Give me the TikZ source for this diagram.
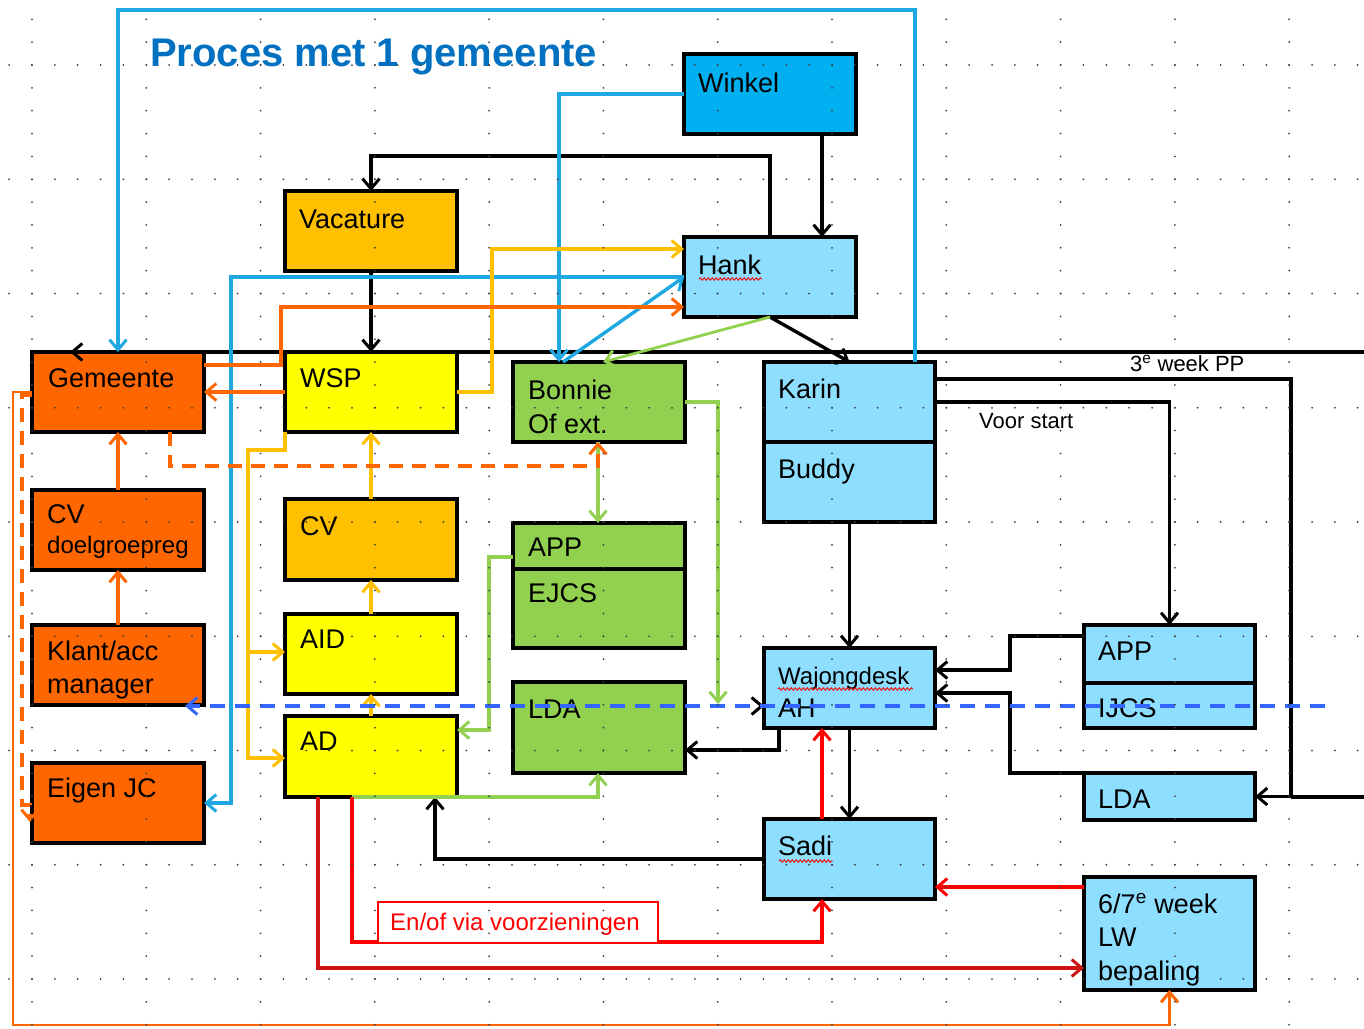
\documentclass[tikz,border=0pt]{standalone}
\usepackage{fontspec}
\setmainfont{Liberation Sans}
\usetikzlibrary{arrows.meta,calc,decorations.pathmorphing}
\definecolor{cOr}{RGB}{255,102,0}
\definecolor{cGold}{RGB}{255,192,0}
\definecolor{cYel}{RGB}{255,255,0}
\definecolor{cGrn}{RGB}{146,208,80}
\definecolor{cLb}{RGB}{142,222,255}
\definecolor{cWin}{RGB}{0,176,240}
\definecolor{cBl}{RGB}{30,167,225}
\definecolor{cDash}{RGB}{51,102,255}
\definecolor{cTitle}{RGB}{0,112,192}
\definecolor{cRed}{RGB}{255,0,0}
\definecolor{cDRed}{RGB}{205,20,20}
\begin{document}
\begin{tikzpicture}[x=1pt,y=-1pt,
  bx/.style={draw=black,line width=4pt,anchor=north west,inner sep=0pt,outer sep=0pt},
  tx/.style={anchor=base west,inner sep=0pt,font=\fontsize{27}{32}\selectfont},
  txs/.style={anchor=base west,inner sep=0pt,font=\fontsize{24}{28}\selectfont},
  txt/.style={anchor=base west,inner sep=0pt,font=\fontsize{22}{26}\selectfont},
  cn/.style={line width=3.4pt},
  ar/.style={-{Straight Barb[length=10pt,width=17pt,line width=3pt]}},
  spell/.style={cRed,line width=0.9pt,decorate,decoration={snake,amplitude=1.2pt,segment length=4pt}},
  ldash/.style={dash pattern=on 15pt off 10pt}]
\fill[white] (0,0) rectangle (1364,1028);
\useasboundingbox (0,0) rectangle (1364,1028);

% ---------- boxes ----------
\node[bx,fill=cWin,minimum width=172pt,minimum height=80pt] (win) at (684,54) {};
\node[bx,fill=cGold,minimum width=172pt,minimum height=80pt] (vac) at (285,191) {};
\node[bx,fill=cLb,minimum width=172pt,minimum height=80pt] (hank) at (684,237) {};
\node[bx,fill=cOr,minimum width=172pt,minimum height=80pt] (gem) at (32,352) {};
\node[bx,fill=cYel,minimum width=172pt,minimum height=80pt] (wsp) at (285,352) {};
\node[bx,fill=cGrn,minimum width=172pt,minimum height=80pt] (bon) at (513,362) {};
\node[bx,fill=cLb,minimum width=171pt,minimum height=80pt] (kar) at (764,362) {};
\node[bx,fill=cLb,minimum width=171pt,minimum height=80pt] (bud) at (764,442) {};
\node[bx,fill=cOr,minimum width=172pt,minimum height=80pt] (cvd) at (32,490) {};
\node[bx,fill=cGold,minimum width=172pt,minimum height=81pt] (cv) at (285,499) {};
\node[bx,fill=cGrn,minimum width=172pt,minimum height=46pt] (appg) at (513,523) {};
\node[bx,fill=cGrn,minimum width=172pt,minimum height=79pt] (ejcs) at (513,569) {};
\node[bx,fill=cOr,minimum width=172pt,minimum height=80pt] (klant) at (32,625) {};
\node[bx,fill=cYel,minimum width=172pt,minimum height=80pt] (aid) at (285,614) {};
\node[bx,fill=cGrn,minimum width=172pt,minimum height=91pt] (ldag) at (513,682) {};
\node[bx,fill=cLb,minimum width=171pt,minimum height=80pt] (waj) at (764,648) {};
\node[bx,fill=cLb,minimum width=171pt,minimum height=58pt] (appb) at (1084,625) {};
\node[bx,fill=cLb,minimum width=171pt,minimum height=45pt] (ijcs) at (1084,683) {};
\node[bx,fill=cYel,minimum width=172pt,minimum height=81pt] (ad) at (285,716) {};
\node[bx,fill=cOr,minimum width=172pt,minimum height=80pt] (eigen) at (32,763) {};
\node[bx,fill=cLb,minimum width=171pt,minimum height=47pt] (ldab) at (1084,773) {};
\node[bx,fill=cLb,minimum width=171pt,minimum height=80pt] (sadi) at (764,819) {};
\node[bx,fill=cLb,minimum width=171pt,minimum height=113pt] (lw) at (1084,877) {};

% ---------- box texts ----------
\node[anchor=base west,inner sep=0pt,font=\fontsize{40}{46}\selectfont\bfseries,text=cTitle] (title) at (150,66) {Proces met 1 gemeente};
\node[tx] (t-win) at (698,92) {Winkel};
\node[tx] (t-vac) at (299,228) {Vacature};
\node[tx] (t-hank) at (698,274) {Hank};
\node[tx] (t-gem) at (48,387) {Gemeente};
\node[tx] (t-wsp) at (300,387) {WSP};
\node[tx] (t-bon1) at (528,399) {Bonnie};
\node[tx] (t-bon2) at (528,433) {Of ext.};
\node[tx] (t-kar) at (778,398) {Karin};
\node[tx] (t-bud) at (778,478) {Buddy};
\node[tx] (t-cvd1) at (47,523) {CV};
\node[txs] (t-cvd2) at (47,553) {doelgroepreg};
\node[tx] (t-cv) at (300,535) {CV};
\node[tx] (t-appg) at (528,556) {APP};
\node[tx] (t-ejcs) at (528,602) {EJCS};
\node[tx] (t-kl1) at (47,660) {Klant/acc};
\node[tx] (t-kl2) at (47,693) {manager};
\node[tx] (t-aid) at (300,648) {AID};
\node[tx] (t-ldag) at (528,718) {LDA};
\node[txs] (t-waj1) at (778,684) {Wajongdesk};
\node[tx] (t-waj2) at (778,717) {AH};
\node[tx] (t-appb) at (1098,660) {APP};
\node[tx] (t-ijcs) at (1098,717) {IJCS};
\node[tx] (t-ad) at (300,750) {AD};
\node[tx] (t-eig) at (47,797) {Eigen JC};
\node[tx] (t-ldab) at (1098,808) {LDA};
\node[tx] (t-sadi) at (778,855) {Sadi};
\node[tx] (t-lw1) at (1098,913) {6/7\textsuperscript{e} week};
\node[tx] (t-lw2) at (1098,946) {LW};
\node[tx] (t-lw3) at (1098,980) {bepaling};
\node[txt] (t-3e) at (1130,371) {3\textsuperscript{e} week PP};
\node[txt] (t-voor) at (979,428) {Voor start};

% spell-check underlines
\draw[spell] (699,279) -- (762,279);
\draw[spell] (778,689) -- (913,689);
\draw[spell] (779,861) -- (833,861);

% ---------- connectors ----------
\coordinate (edgeTop) at (1364,352);
\coordinate (tipTop) at (70,352);
\coordinate (edgeR) at (1364,797);
% black
\draw[cn,ar] (edgeTop) -- (tipTop);
\draw[cn,ar] (822,0 |- win.south) -- (822,0 |- hank.north);
\draw[cn,ar] (hank.north) |- (vac.north |- 0,156) -- (vac.north);
\draw[cn,ar] (vac.south) -- (wsp.north);
\draw[cn,ar] (hank.south) -- (kar.north);
\draw[cn,ar] (kar.east |- 0,379) -- (1291,379) |- (ldab.east);
\draw[cn] (edgeR) -- (1291,797);
\draw[cn,ar] (kar.east) -| (appb.north);
\draw[cn,ar] (bud.south) -- (waj.north);
\draw[cn,ar] (waj.south) -- (sadi.north);
\draw[cn,ar] (appb.west |- 0,636) -- (1010,636) |- (waj.east |- 0,670);
\draw[cn,ar] (ldab.north west) -- (1010,773) |- (waj.east |- 0,693);
\draw[cn,ar] (779,0 |- waj.south) |- (ldag.east |- 0,750);
\draw[cn,ar] (sadi.west) -| (435,0 |- ad.south);
\draw[cn,ldash,ar] (ldag.east |- 0,706) -- (waj.west |- 0,706);
% blue
\draw[cn,cBl,ar] (915,0 |- kar.north) -- (915,10) -| (gem.north);
\draw[cn,cBl,ar] (win.west) -| (559,0 |- bon.north);
\draw[cn,cBl,ar] (hank.west) -| (231,803) -- (eigen.east);
\draw[cn,cBl,ar] (563,0 |- bon.north) -- (hank.west);
% green
\draw[line width=2.8pt,cGrn,ar] (hank.south) -- (603,0 |- bon.north);
\draw[cn,cGrn,ar] (bon.east) -| (718,704);
\draw[cn,cGrn,ar] (598,0 |- bon.south) -- (598,0 |- appg.north);
\draw[cn,cGrn,ar] (appg.west |- 0,557) -- (489,557) |- (ad.east |- 0,730);
\draw[cn,cGrn,ar] (352,0 |- ad.south) -- (598,797) -- (598,0 |- ldag.south);
% gold
\draw[cn,cGold,ar] (wsp.east) -- (492,392) |- (hank.west |- 0,249);
\draw[cn,cGold,ar] (wsp.south west) -- (285,450) -| (248,758) -- (ad.west |- 0,758);
\draw[cn,cGold,ar] (248,652) -- (aid.west |- 0,652);
\draw[cn,cGold,ar] (aid.north) -- (cv.south);
\draw[cn,cGold,ar] (cv.north) -- (wsp.south);
\draw[cn,cGold,ar] (ad.north) -- (aid.south);
% orange
\draw[cn,cOr,ar] (gem.east |- 0,365) -- (281,365) |- (hank.west |- 0,307);
\draw[cn,cOr,ar] (wsp.west) -- (gem.east);
\draw[cn,cOr,ar] (cvd.north) -- (gem.south);
\draw[cn,cOr,ar] (klant.north) -- (cvd.south);
\draw[cn,cOr,dash pattern=on 14pt off 9pt,ar] (170,0 |- gem.south) -- (170,466) -| (598,0 |- bon.south);
\draw[cn,cOr,dash pattern=on 14pt off 9pt,ar] (gem.west |- 0,395) -- (22,395) -- (22,805) -- (30,805) -- (30,822);
\draw[line width=2.8pt,cOr,ar] (gem.west |- 0,392) -- (13,392) -- (13,1025) -| (lw.south);
% red
\draw[cn,cRed,ar] (822,0 |- sadi.north) -- (822,0 |- waj.south);
\draw[cn,cRed,ar] (352,0 |- ad.south) -- (352,942) -| (822,0 |- sadi.south);
\draw[cn,cDRed,ar] (318,0 |- ad.south) -- (318,968) -- (lw.west |- 0,968);
\draw[cn,cRed,ar] (lw.west |- 0,887) -- (sadi.east |- 0,887);
% blue dashed
\coordinate (dashR) at (1325,706);
\coordinate (dashL) at (185,706);
\draw[line width=3.8pt,cDash,ldash,ar] (dashR) -- (dashL);

% label
\node[draw=cRed,line width=1.5pt,fill=white,anchor=north west,inner sep=0pt,minimum width=280pt,minimum height=41pt] (envia) at (377,901) {};
\node[txs,text=cRed] (t-envia) at (390,930) {En/of via voorzieningen};

% ---------- grid dots ----------
\foreach \j in {0,...,8} {
  \foreach \i in {0,...,59} {
    \fill[black!75] ({9.14+22.857*\i},{65+114.25*\j}) circle (1);
  }
}
\foreach \k in {0,...,11} {
  \foreach \m in {0,...,44} {
    \fill[black!75] ({32+114.285*\k},{19.3+22.85*\m}) circle (1);
  }
}
\end{tikzpicture}
\end{document}
